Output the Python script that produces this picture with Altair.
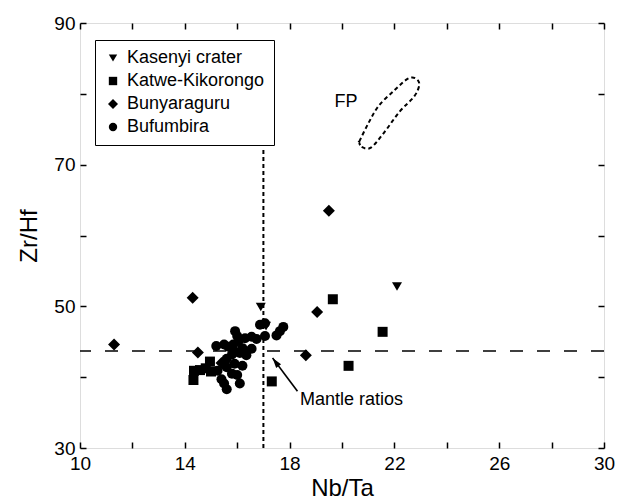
import math
import altair as alt
import pandas as pd

FONT = "Liberation Sans"

series_names = ["Kasenyi crater", "Katwe-Kikorongo", "Bunyaraguru", "Bufumbira"]

kasenyi_nbta = [16.9, 17.1, 22.1]
kasenyi_zrhf = [49.9, 47.2, 52.8]

katwe_nbta = [14.33, 14.35, 14.58, 14.8, 14.96, 15.0, 17.32, 19.65, 21.55, 20.25]
katwe_zrhf = [39.6, 40.9, 41.0, 41.25, 42.2, 40.8, 39.4, 51.0, 46.4, 41.6]

bunya_nbta = [11.3, 14.3, 14.5, 15.4, 18.62, 19.05, 19.5]
bunya_zrhf = [44.6, 51.2, 43.5, 42.0, 43.1, 49.2, 63.5]

bufu_nbta = [15.2, 15.5, 15.66, 15.92, 16.0, 16.05, 15.85, 16.2, 16.3, 16.55, 16.74,
             16.1, 16.35, 15.8, 15.6, 15.9, 16.2, 15.6, 15.8, 15.4, 15.5, 15.6, 16.1,
             15.25, 16.87, 17.06, 17.5, 17.63, 17.76, 16.55, 16.0, 15.92, 17.06]
bufu_zrhf = [44.4, 44.6, 44.3, 46.5, 45.8, 45.1, 44.6, 44.1, 45.5, 45.7, 45.4,
             43.4, 43.1, 43.2, 42.6, 41.9, 41.6, 41.4, 40.5, 39.7, 39.1, 38.3, 39.1,
             40.9, 47.4, 45.8, 45.9, 46.5, 47.1, 44.0, 40.3, 43.6, 47.6]

mantle_nbta = 17.0
mantle_zrhf = 43.7
mantle_line_top = 72.3

fp_nbta = [20.65, 20.75, 21.1, 21.6, 22.2, 22.75, 22.95, 22.8, 22.5, 22.0, 21.4, 21.0, 20.65]
fp_zrhf = [73.2, 72.5, 72.4, 74.5, 77.5, 79.6, 81.3, 82.2, 82.1, 80.5, 78.3, 75.8, 73.2]
fp_label = ["FP"]
fp_label_pos = [20.15, 78.9]

mantle_label = ["Mantle ratios"]
mantle_label_pos = [18.4, 36.8]
arrow_tail = [18.3, 38.0]
arrow_tip = [17.35, 42.7]

x_domain = [10, 30]
y_domain = [30, 90]
x_label_values = [10, 14, 18, 22, 26, 30]
y_label_values = [30, 50, 70, 90]
x_tick_values = list(range(10, 31, 2))
y_tick_values = list(range(30, 91, 10))

shape_range = ["triangle-down", "square", "M0,-1.2L1.2,0L0,1.2L-1.2,0Z", "circle"]

W, H = 524, 425

rows = []
for name, xs, ys in [
    (series_names[0], kasenyi_nbta, kasenyi_zrhf),
    (series_names[1], katwe_nbta, katwe_zrhf),
    (series_names[2], bunya_nbta, bunya_zrhf),
    (series_names[3], bufu_nbta, bufu_zrhf),
]:
    for a, b in zip(xs, ys):
        rows.append({"nbta": a, "zrhf": b, "group": name})
pts = pd.DataFrame(rows)

xs = alt.Scale(domain=x_domain, nice=False, zero=False)
ys = alt.Scale(domain=y_domain, nice=False, zero=False)

points = alt.Chart(pts).mark_point(filled=True, opacity=1, size=100, color="black").encode(
    x=alt.X("nbta:Q", scale=xs, axis=alt.Axis(values=x_label_values, title="Nb/Ta", tickSize=0, ticks=False,
                                              domain=False, grid=False, labelFontSize=19, titleFontSize=24,
                                              labelPadding=6, titlePadding=3, labelFlush=False,
                                              labelColor="black", titleColor="black", titleFontWeight="normal",
                                              labelFont=FONT, titleFont=FONT)),
    y=alt.Y("zrhf:Q", scale=ys, axis=alt.Axis(values=y_label_values, title="Zr/Hf", tickSize=0, ticks=False,
                                              domain=False, grid=False, labelFontSize=19, titleFontSize=24,
                                              labelPadding=5, titlePadding=12, labelFlush=False,
                                              labelColor="black", titleColor="black", titleFontWeight="normal",
                                              labelFont=FONT, titleFont=FONT)),
    shape=alt.Shape("group:N", scale=alt.Scale(domain=series_names, range=shape_range),
                    legend=alt.Legend(title=None, orient="none", legendX=15, legendY=17,
                                      fillColor="white", strokeColor="black", padding=9,
                                      labelFontSize=18, labelFont=FONT, labelColor="black",
                                      symbolSize=70, rowPadding=5, labelOffset=5,
                                      symbolFillColor="black", symbolStrokeWidth=0)),
)

vline_df = pd.DataFrame({"x": [mantle_nbta], "y1": [y_domain[0]], "y2": [mantle_line_top]})
vline = alt.Chart(vline_df).mark_rule(color="black", strokeWidth=2, strokeDash=[4, 3]).encode(
    x=alt.X("x:Q", scale=xs, axis=alt.Axis(orient="bottom", values=x_tick_values, labels=False, ticks=True,
                                           tickSize=6, tickWidth=1.5, tickColor="black", domain=False,
                                           grid=False, offset=-6, title=None)),
    y=alt.Y("y1:Q", scale=ys, axis=alt.Axis(orient="left", values=y_tick_values, labels=False, ticks=True,
                                            tickSize=6, tickWidth=1.5, tickColor="black", domain=False,
                                            grid=False, offset=-6, title=None)),
    y2="y2:Q",
)

hline_df = pd.DataFrame({"y": [mantle_zrhf]})
hline = alt.Chart(hline_df).mark_rule(color="black", strokeWidth=1.6, strokeDash=[13, 14]).encode(
    y=alt.Y("y:Q", scale=ys, axis=None),
)

fp_df = pd.DataFrame({"x": fp_nbta, "y": fp_zrhf, "o": list(range(len(fp_nbta)))})
fp = alt.Chart(fp_df).mark_line(color="black", strokeWidth=2, strokeDash=[4, 3], interpolate="cardinal-closed").encode(
    x=alt.X("x:Q", scale=xs, axis=alt.Axis(orient="top", values=x_tick_values, labels=False, ticks=True,
                                           tickSize=6, tickWidth=1.5, tickColor="black", domain=False,
                                           grid=False, offset=-6, title=None)),
    y=alt.Y("y:Q", scale=ys, axis=alt.Axis(orient="right", values=y_tick_values, labels=False, ticks=True,
                                            tickSize=6, tickWidth=1.5, tickColor="black", domain=False,
                                            grid=False, offset=-6, title=None)),
    order="o:Q",
)

fp_text_df = pd.DataFrame({"x": [fp_label_pos[0]], "y": [fp_label_pos[1]], "t": fp_label})
fp_text = alt.Chart(fp_text_df).mark_text(fontSize=18, font=FONT, color="black", align="center",
                                           baseline="middle").encode(
    x=alt.X("x:Q", scale=xs, axis=None), y=alt.Y("y:Q", scale=ys, axis=None), text="t:N")

ml_df = pd.DataFrame({"x": [mantle_label_pos[0]], "y": [mantle_label_pos[1]], "t": mantle_label})
ml_text = alt.Chart(ml_df).mark_text(fontSize=18, font=FONT, color="black", align="left",
                                     baseline="middle").encode(
    x=alt.X("x:Q", scale=xs, axis=None), y=alt.Y("y:Q", scale=ys, axis=None), text="t:N")

arrow_df = pd.DataFrame({"x": [arrow_tail[0], arrow_tip[0]], "y": [arrow_tail[1], arrow_tip[1]], "o": [0, 1]})
arrow_line = alt.Chart(arrow_df).mark_line(color="black", strokeWidth=1.6).encode(
    x=alt.X("x:Q", scale=xs, axis=None), y=alt.Y("y:Q", scale=ys, axis=None), order="o:Q")

px_x = W / (x_domain[1] - x_domain[0])
px_y = H / (y_domain[1] - y_domain[0])
dx = (arrow_tip[0] - arrow_tail[0]) * px_x
dy = (arrow_tip[1] - arrow_tail[1]) * px_y
ang = math.degrees(math.atan2(dx, dy)) % 360

head_df = pd.DataFrame({"x": [arrow_tip[0]], "y": [arrow_tip[1]]})
arrow_head = alt.Chart(head_df).mark_point(shape="M0,0L0.38,1.25L-0.38,1.25Z", filled=True, opacity=1,
                                           size=260, color="black", angle=ang).encode(
    x=alt.X("x:Q", scale=xs, axis=None), y=alt.Y("y:Q", scale=ys, axis=None))

chart = alt.layer(hline, vline, fp, fp_text, ml_text, arrow_line, arrow_head, points).resolve_axis(
    x="independent", y="independent"
).properties(
    width=W, height=H,
    autosize=alt.AutoSizeParams(type="none"),
    padding={"left": 80, "top": 23, "right": 14, "bottom": 53},
).configure_view(stroke="black", strokeWidth=2).configure(background="white")

chart.save("out.html", embed_options={"renderer": "svg", "actions": False})
